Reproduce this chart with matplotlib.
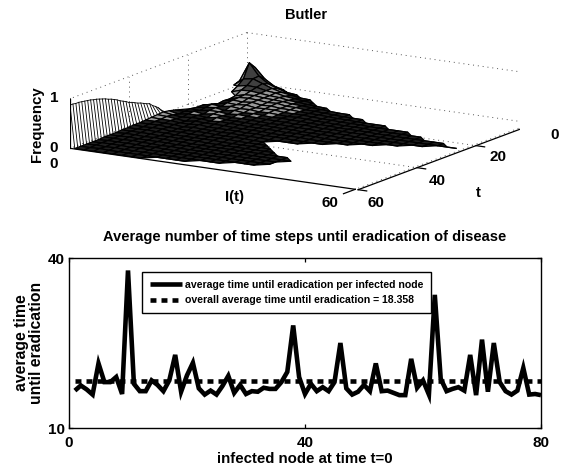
import numpy as np
import matplotlib
matplotlib.use("Agg")
import matplotlib.pyplot as plt

plt.rcParams['font.family'] = ['Liberation Sans', 'DejaVu Sans']
plt.rcParams['font.weight'] = 'bold'
plt.rcParams['axes.titleweight'] = 'bold'
plt.rcParams['axes.labelweight'] = 'bold'

# average time until eradication, node 1..80
avg_time = [16.6, 17.5, 16.8, 15.9, 21.4, 18.1, 18.1, 19.0, 16.0, 37.8,
            17.8, 16.5, 16.5, 18.4, 17.6, 16.5, 18.4, 22.9, 16.4, 19.3,
            21.5, 17.0, 15.9, 16.6, 15.9, 17.4, 19.2, 16.2, 17.6, 16.0,
            16.5, 16.4, 17.1, 16.9, 16.9, 18.1, 19.9, 28.1, 19.0, 16.0,
            17.8, 16.5, 17.2, 16.5, 18.1, 25.0, 17.0, 15.9, 16.4, 17.6,
            16.5, 21.4, 16.5, 16.6, 16.2, 15.8, 15.8, 22.2, 17.1, 18.4,
            15.9, 33.5, 18.7, 16.5, 16.9, 17.2, 16.6, 22.9, 15.8, 25.6,
            16.4, 25.0, 18.1, 16.5, 15.9, 16.6, 20.6, 15.9, 16.0, 15.8]
overall_avg = 18.358

# frequency in percent, one row per t = 0, 2, ... 60, columns I = 1, 3, 5 ...
# 0 means no mesh there
freq_rows = [
    [2, 1],
    [20, 38, 18, 6, 1],
    [14, 52, 28, 15, 8, 3, 1],
    [9, 24, 27, 20, 13, 8, 5, 2, 1],
    [0, 14, 18, 17, 13, 11, 7, 5, 3, 1],
    [0, 7, 13, 14, 12, 10, 9, 6, 5, 3, 2, 1],
    [0, 0, 6, 11, 12, 10, 9, 8, 6, 5, 4, 3, 2, 1, 1],
    [0, 0, 4, 10, 11, 10, 8, 9, 6, 6, 4, 4, 3, 2, 1, 1, 1],
    [0, 0, 5, 9, 8, 10, 7, 8, 6, 6, 5, 4, 4, 3, 2, 2, 1, 1, 1, 1],
    [0, 0, 3, 8, 7, 9, 6, 7, 7, 5, 5, 5, 4, 3, 3, 2, 2, 2, 1, 1, 1, 1, 1],
    [0, 2, 7, 5, 8, 6, 7, 5, 6, 5, 4, 5, 4, 3, 3, 2, 2, 2, 2, 1, 1, 1, 1, 1, 1],
    [0, 2, 5, 7, 4, 7, 5, 6, 5, 4, 5, 4, 4, 3, 3, 3, 2, 2, 2, 2, 1, 1, 1, 1, 1, 1, 1, 1],
    [0, 4, 3, 6, 6, 4, 6, 5, 5, 4, 4, 4, 3, 4, 3, 2, 3, 2, 2, 2, 1, 1, 1, 1, 1, 1, 1, 1, 1, 1],
    [3, 3, 6, 3, 6, 5, 4, 5, 4, 4, 3, 4, 3, 3, 3, 2, 2, 2, 2, 1, 1, 1, 1, 1, 1, 1, 1],
    [6, 2, 5, 5, 3, 6, 4, 4, 4, 3, 4, 3, 3, 3, 2, 2, 2, 2, 1, 1, 1, 1, 1, 1, 1],
    [8, 5, 3, 5, 5, 3, 5, 4, 4, 3, 3, 3, 3, 2, 3, 2, 2, 1, 1, 1, 1, 1, 1],
    [7, 6, 4, 2, 5, 4, 4, 4, 3, 3, 3, 3, 2, 2, 2, 2, 1, 1, 1, 1, 1],
    [6, 5, 5, 3, 3, 5, 3, 3, 3, 3, 2, 3, 2, 2, 2, 1, 1, 1, 1],
    [5, 5, 4, 4, 2, 4, 3, 3, 2, 3, 2, 2, 2, 1, 1, 1, 1],
    [4, 4, 5, 3, 3, 2, 3, 3, 2, 2, 2, 2, 1, 1],
    [4, 3, 4, 4, 2, 3, 2, 2, 2, 2, 2, 1, 1, 1, 1],
    [3, 3, 4, 3, 3, 2, 2, 2, 2, 2, 1, 1, 1, 1, 1, 1],
    [3, 3, 3, 3, 2, 3, 2, 2, 2, 1, 1, 1, 1, 1, 1, 1, 1],
    [2, 3, 3, 2, 3, 2, 2, 2, 1, 1, 1, 1, 1, 1, 1, 1, 1, 1, 1],
    [2, 2, 3, 2, 2, 2, 2, 1, 2, 1, 1, 1, 1, 1, 1, 1, 1, 1, 1, 1],
    [2, 2, 2, 3, 2, 2, 1, 2, 1, 1, 1, 1, 1, 1, 1, 1, 1, 1, 1],
    [1, 2, 2, 2, 2, 1, 2, 1, 1, 1, 1, 1, 1, 1, 1, 1, 1, 1, 1],
    [1, 2, 2, 2, 1, 2, 1, 1, 1, 1, 1, 1, 1, 1, 1, 1, 1, 1],
    [1, 2, 1, 2, 1, 1, 1, 1, 1, 1, 1, 1, 1, 1, 1],
    [1, 1, 2, 1, 1, 1, 1, 1, 1, 1, 1, 1],
    [1, 1, 1, 1, 1, 1, 1, 1],
]

# the I=0 wall, t = 29..60
wall_t = list(range(29, 61))
wall_i0 = [.08, .15, .20, .24, .30, .32, .35, .38, .40, .43, .46, .48,
           .52, .55, .58, .62, .65, .68, .70, .73, .75, .77, .79, .80,
           .82, .83, .84, .85, .86, .86, .87, .87]
wall_i1 = [.05, .07, .08, .08, .07, .07, .06, .06, .05, .05, .04, .04,
           .04, .03, .03, .03, .03, .02, .02, .02, .02, .02, .02, .01,
           .01, .01, .01, .01, .01, .01, .01, .01]


def px(x, y):
    return x / 562, 1 - y / 468


def plotSurface(fig):
    ax = fig.add_axes([70 / 562, 0.2692, 450 / 562, 450 / 468], projection='3d')
    ax.set_proj_type('ortho')
    ax.set_box_aspect((1, 1, 0.152), zoom=1.03)
    ax.view_init(elev=13.4, azim=-58.2)
    ax.computed_zorder = False
    ax.set_xlim(0, 60)
    ax.set_ylim(60, 0)
    ax.set_zlim(0, 1)
    ax.set_axis_off()
    ax.patch.set_alpha(0)

    # dotted box and grid
    dot = dict(color='#555555', lw=0.7, ls=(0, (1, 4)), zorder=1)
    ax.plot([0, 60], [0, 0], [1, 1], **dot)
    ax.plot([0, 0], [0, 60], [1, 1], **dot)
    ax.plot([0, 0], [0, 0], [0, 1], **dot)
    ax.plot([60, 60], [0, 0], [0, 1], **dot)
    ax.plot([60, 60], [0, 60], [0, 0], **dot)
    ax.plot([0, 0], [0, 60], [0, 0], **dot)
    for t in [0, 20, 40]:
        ax.plot([0, 60], [t, t], [0, 0], **dot)
    for t in [20, 40]:
        ax.plot([0, 0], [t, t], [0, 1], **dot)

    # wall at I=0
    for t, z0, z1 in zip(wall_t, wall_i0, wall_i1):
        ax.plot([0, 1], [t, t], [z0, z1], color='black', lw=0.6, zorder=2)
    ax.plot([0] * len(wall_t), wall_t, wall_i0, color='black', lw=0.6, zorder=2)

    # mesh, the low part is so dense in the original that it reads as black
    t_vals = np.arange(0, 61, 2)
    i_vals = np.arange(1, 60, 2)
    Z = np.full((len(t_vals), len(i_vals)), np.nan)
    for n, row in enumerate(freq_rows):
        for m, v in enumerate(row):
            if v > 0:
                Z[n, m] = v / 100
    face = np.zeros(Z.shape + (4,))
    face[..., :3] = 0.12
    face[..., 3] = 1
    face[Z >= 0.06, :3] = 0.6
    face[Z >= 0.16, :3] = 0.25
    X, Y = np.meshgrid(i_vals, t_vals)
    ax.plot_surface(X, Y, Z, rstride=1, cstride=1, facecolors=face, edgecolor='black',
                    linewidth=0.9, shade=False, zorder=3)

    # axis lines and ticks
    solid = dict(color='black', lw=0.9, zorder=4)
    ax.plot([0, 60], [60, 60], [0, 0], **solid)
    ax.plot([60.6, 60.6], [0, 60], [0, 0], **solid)
    ax.plot([0, 0], [60, 60], [0, 1], **solid)
    for t in [0, 20, 40, 60]:
        ax.plot([60.6, 62.4], [t, t], [0, 0], **solid)
    for i in [0, 60]:
        ax.plot([i, i], [60, 64], [0, 0], **solid)
    for z in [0, 1]:
        ax.plot([0, -1.2], [60, 60], [z, z], **solid)

    labels = [(54, 98, '1'), (54, 148, '0'), (54, 164, '0'), (330, 203, '60'),
              (376, 203, '60'), (437, 181, '40'), (498, 157, '20'), (555, 135, '0')]
    for x, y, s in labels:
        fig.text(*px(x, y), s, fontsize=11, ha='center', va='center')
    fig.text(*px(37, 124), 'Frequency', fontsize=10.8, rotation=90, ha='center', va='center')
    fig.text(*px(234, 197), 'I(t)', fontsize=10.8, ha='center', va='center')
    fig.text(*px(478, 193), 't', fontsize=10.8, ha='center', va='center')
    fig.text(*px(306, 15), 'Butler', fontsize=10.5, ha='center', va='center')


def plotAverage(fig):
    ax = fig.add_axes([69 / 562, 1 - 428 / 468, 472 / 562, 170 / 468])
    nodes = np.arange(1, 81)
    ax.plot(nodes, avg_time, color='black', lw=3.3, solid_joinstyle='miter', solid_capstyle='butt',
            label='average time until eradication per infected node')
    ax.plot(nodes, [overall_avg] * len(nodes), color='black', lw=3.3, ls=(0, (1.3, 1.1)),
            label='overall average time until eradication = %.3f' % overall_avg)
    ax.set_xlim(0, 80)
    ax.set_ylim(10, 40)
    ax.set_xticks([0, 40, 80])
    ax.set_yticks([10, 40])
    ax.tick_params(direction='in', length=3, width=0.9, top=True, right=True,
                   labelsize=11, pad=3)
    ax.tick_params(axis='x', pad=6)
    for s in ax.spines.values():
        s.set_linewidth(1)
    ax.set_xlabel('infected node at time t=0', fontsize=10.8, labelpad=1.5)
    ax.set_ylabel('average time\nuntil eradication', fontsize=11.3, labelpad=3, linespacing=1.0)
    ax.set_title('Average number of time steps until eradication of disease',
                 fontsize=10.5, pad=12.5)
    ax.legend(loc='upper left', bbox_to_anchor=(73 / 472, 156 / 170), fontsize=7.6,
              fancybox=False, framealpha=1, edgecolor='black', borderaxespad=0,
              handlelength=3, handletextpad=0.3, borderpad=0.75, labelspacing=0.5)


if __name__ == "__main__":
    fig = plt.figure(figsize=(5.62, 4.68), dpi=100)
    plotSurface(fig)
    plotAverage(fig)
    fig.savefig("out.png", dpi=100)
